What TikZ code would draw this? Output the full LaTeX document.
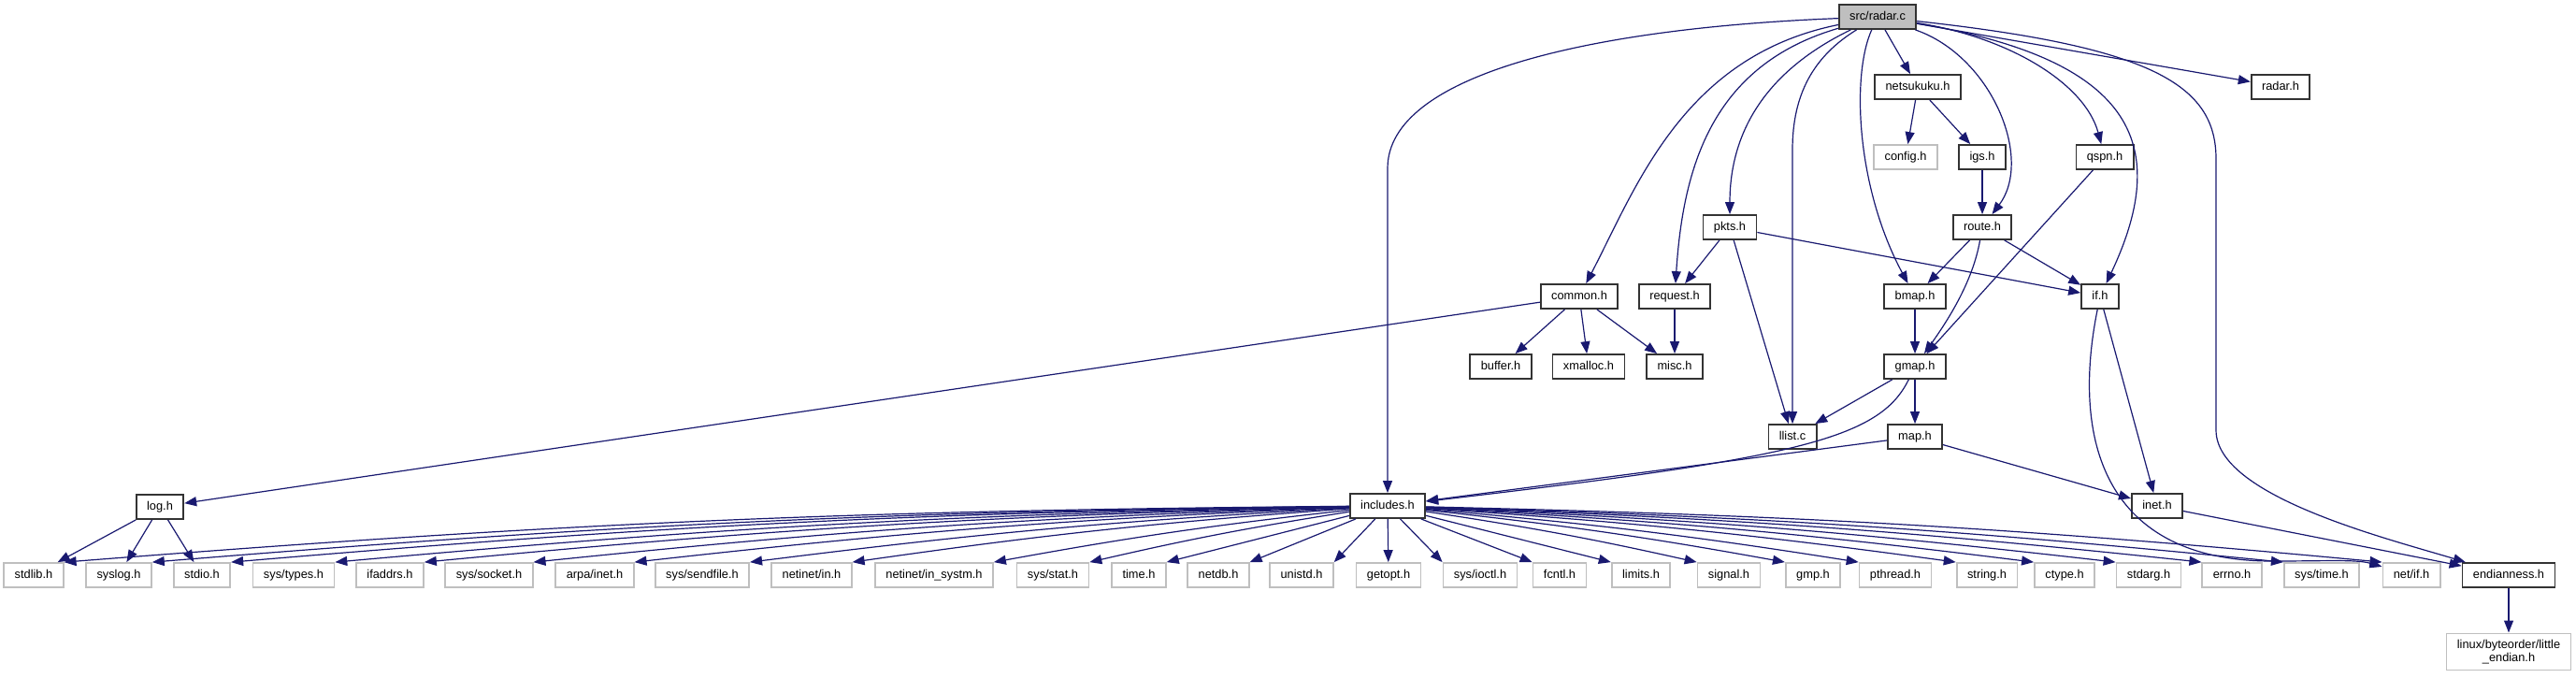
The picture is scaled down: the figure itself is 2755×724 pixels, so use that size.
\documentclass[tikz,border=0pt]{standalone}
\usepackage{fontspec}
\setmainfont{Liberation Sans}
\usepackage{xcolor}
\usetikzlibrary{arrows.meta}
\definecolor{edgeblue}{HTML}{191970}
\definecolor{extgray}{HTML}{BFBFBF}

\begin{document}
\begin{tikzpicture}[x=0.5pt,y=-0.5pt,>={Triangle[length=6.5pt,width=5pt]},
  box/.style={draw=black!80,line width=0.9pt,fill=white,font=\fontsize{6.4pt}{7pt}\selectfont,minimum height=13pt,inner xsep=5.7pt},
  hdr/.style={box,text height=4.8pt,text depth=1.4pt},
  ext/.style={hdr,draw=extgray},
  dep/.style={->,draw=edgeblue,line width=0.6pt}]
\useasboundingbox (0,0) rectangle (2755,724);
\node[hdr,fill=extgray] (radar) at (2008,18) {src/radar.c};
\node[hdr] (netsk) at (2051,93) {netsukuku.h};
\node[hdr] (radarh) at (2439,93) {radar.h};
\node[ext] (config) at (2038,168) {config.h};
\node[hdr] (igs) at (2120,168) {igs.h};
\node[hdr] (qspn) at (2251,168) {qspn.h};
\node[hdr] (pkts) at (1850,243) {pkts.h};
\node[hdr] (route) at (2120,243) {route.h};
\node[hdr] (common) at (1689,317) {common.h};
\node[hdr] (request) at (1791,317) {request.h};
\node[hdr] (bmap) at (2048,317) {bmap.h};
\node[hdr] (ifh) at (2246,317) {if.h};
\node[hdr] (buffer) at (1605,392) {buffer.h};
\node[hdr] (xmalloc) at (1699,392) {xmalloc.h};
\node[hdr] (misc) at (1791,392) {misc.h};
\node[hdr] (gmap) at (2048,392) {gmap.h};
\node[hdr] (llist) at (1917,467) {llist.c};
\node[hdr] (map) at (2048,467) {map.h};
\node[hdr] (log) at (171,542) {log.h};
\node[hdr] (inc) at (1484,541) {includes.h};
\node[hdr] (inet) at (2307,541) {inet.h};
\node[hdr] (endian) at (2683,615) {endianness.h};
\node[box,draw=extgray,align=center,minimum height=19.5pt] (linux) at (2683,697) {linux/byteorder/little\\\_endian.h};
% system headers
\node[ext] (stdlib) at (36,615) {stdlib.h};
\node[ext] (syslog) at (127,615) {syslog.h};
\node[ext] (stdio) at (216,615) {stdio.h};
\node[ext] (systypes) at (314,615) {sys/types.h};
\node[ext] (ifaddrs) at (417,615) {ifaddrs.h};
\node[ext] (socket) at (523,615) {sys/socket.h};
\node[ext] (arpainet) at (636,615) {arpa/inet.h};
\node[ext] (sendfile) at (751,615) {sys/sendfile.h};
\node[ext] (netin) at (868,615) {netinet/in.h};
\node[ext] (insystm) at (999,615) {netinet/in\_systm.h};
\node[ext] (sysstat) at (1126,615) {sys/stat.h};
\node[ext] (timeh) at (1218,615) {time.h};
\node[ext] (netdb) at (1303,615) {netdb.h};
\node[ext] (unistd) at (1392,615) {unistd.h};
\node[ext] (getopt) at (1485,615) {getopt.h};
\node[ext] (ioctl) at (1583,615) {sys/ioctl.h};
\node[ext] (fcntl) at (1668,615) {fcntl.h};
\node[ext] (limits) at (1755,615) {limits.h};
\node[ext] (signal) at (1849,615) {signal.h};
\node[ext] (gmp) at (1939,615) {gmp.h};
\node[ext] (pthread) at (2027,615) {pthread.h};
\node[ext] (string) at (2125,615) {string.h};
\node[ext] (ctype) at (2208,615) {ctype.h};
\node[ext] (stdarg) at (2298,615) {stdarg.h};
\node[ext] (errno) at (2387,615) {errno.h};
\node[ext] (systime) at (2483,615) {sys/time.h};
\node[ext] (netif) at (2579,615) {net/if.h};
% src/radar.c
\draw[dep] (radar) .. controls (1700,30) and (1484,80) .. (1484,180) -- (inc);
\draw[dep] (radar) .. controls (1800,60) and (1750,200) .. (common);
\draw[dep] (radar) .. controls (1830,70) and (1800,180) .. (request);
\draw[dep] (radar) .. controls (1880,80) and (1850,150) .. (pkts);
\draw[dep] (radar) .. controls (1940,60) and (1917,100) .. (1917,160) -- (llist);
\draw[dep] (radar) .. controls (1980,80) and (1985,200) .. (bmap);
\draw[dep] (radar) .. controls (2130,60) and (2175,170) .. (route);
\draw[dep] (radar) .. controls (2150,40) and (2230,90) .. (qspn);
\draw[dep] (radar) .. controls (2290,65) and (2320,160) .. (ifh);
\draw[dep] (radar) .. controls (2300,50) and (2370,90) .. (2370,170) -- (2370,460) .. controls (2370,530) and (2550,575) .. (endian);
\draw[dep] (radar) -- (netsk);\draw[dep] (radar) -- (radarh);
% project headers
\draw[dep] (netsk) -- (config);\draw[dep] (netsk) -- (igs);\draw[dep] (igs) -- (route);
\draw[dep] (route) -- (bmap);\draw[dep] (route) -- (ifh);\draw[dep] (route) .. controls (2110,300) and (2085,340) .. (gmap);
\draw[dep] (qspn) -- (gmap);
\draw[dep] (pkts) -- (request);\draw[dep] (pkts) -- (llist);\draw[dep] (pkts) -- (ifh);
\draw[dep] (common) -- (buffer);\draw[dep] (common) -- (xmalloc);\draw[dep] (common) -- (misc);\draw[dep] (common) -- (log);
\draw[dep] (request) -- (misc);\draw[dep] (bmap) -- (gmap);
\draw[dep] (gmap) -- (map);\draw[dep] (gmap) -- (llist);\draw[dep] (gmap) .. controls (2010,470) and (1920,490) .. (inc);
\draw[dep] (map) -- (inc);\draw[dep] (map) -- (inet);
\draw[dep] (ifh) -- (inet);
\draw[dep] (ifh) .. controls (2215,470) and (2250,600) .. (2430,600) .. controls (2490,600) and (2520,598) .. (netif);
\draw[dep] (inet) -- (endian);\draw[dep] (endian) -- (linux);
\draw[dep] (log) -- (stdlib);\draw[dep] (log) -- (syslog);\draw[dep] (log) -- (stdio);
% includes.h
\draw[dep] (inc) to[bend right=2] (stdlib.north east);\draw[dep] (inc) to[bend right=2] (syslog.north east);
\draw[dep] (inc) to[bend right=2] (stdio.north east);\draw[dep] (inc) to[bend right=2] (systypes.north east);
\draw[dep] (inc) to[bend right=2] (ifaddrs.north east);\draw[dep] (inc) to[bend right=2] (socket.north east);
\draw[dep] (inc) to[bend right=2] (arpainet.north east);\draw[dep] (inc) to[bend right=2] (sendfile.north east);
\draw[dep] (inc) to[bend right=2] (netin.north east);\draw[dep] (inc) to[bend right=2] (insystm.north east);
\draw[dep] (inc) to[bend right=2] (sysstat.north east);
\draw[dep] (inc) -- (timeh.north east);\draw[dep] (inc) -- (netdb.north east);\draw[dep] (inc) -- (unistd.north east);
\draw[dep] (inc) -- (getopt);
\draw[dep] (inc) -- (ioctl.north west);\draw[dep] (inc) -- (fcntl.north west);\draw[dep] (inc) -- (limits.north west);
\draw[dep] (inc) to[bend left=2] (signal.north west);\draw[dep] (inc) to[bend left=2] (gmp.north west);
\draw[dep] (inc) to[bend left=2] (pthread.north west);\draw[dep] (inc) to[bend left=2] (string.north west);
\draw[dep] (inc) to[bend left=2] (ctype.north west);\draw[dep] (inc) to[bend left=2] (stdarg.north west);
\draw[dep] (inc) to[bend left=2] (errno.north west);\draw[dep] (inc) to[bend left=2] (systime.north west);
\draw[dep] (inc) to[bend left=2] (netif.north west);
\end{tikzpicture}
\end{document}
